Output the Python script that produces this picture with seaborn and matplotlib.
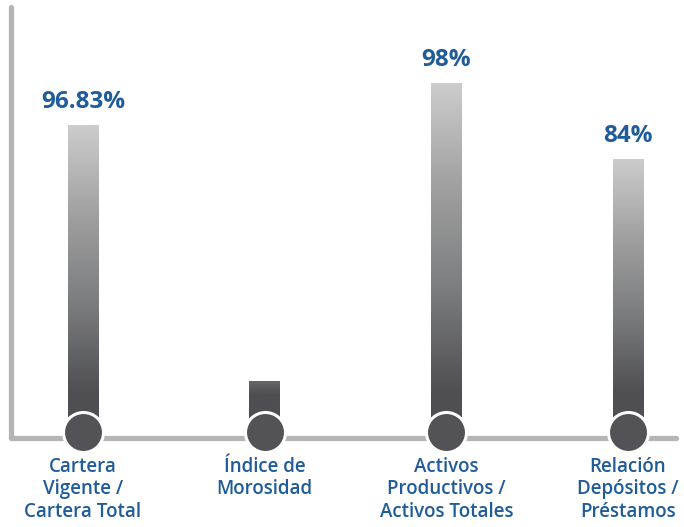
import numpy as np
import pandas as pd
import matplotlib
matplotlib.use("Agg")
import matplotlib.pyplot as plt
import seaborn as sns
from matplotlib.colors import LinearSegmentedColormap

categories = ["Cartera\nVigente /\nCartera Total", "Índice de\nMorosidad",
              "Activos\nProductivos /\nActivos Totales", "Relación\nDepósitos /\nPréstamos"]
bar_heights = [86.4, 15.7, 98.0, 77.0]
value_labels = ["96.83%", "", "98%", "84%"]

sns.set_theme(style="white")
plt.rcParams['font.family'] = ['Open Sans', 'DejaVu Sans']

BLUE = "#1f5c99"
AXIS = "#b5b5b5"
DARK = "#4e4e53"
LIGHT = "#cccccc"

fig = plt.figure(figsize=(6.84, 5.27), dpi=100)
ax = fig.add_axes([11/684, (527-438)/527, 665/684, 431/527])

df = pd.DataFrame({"cat": categories, "h": bar_heights})
sns.barplot(data=df, x="cat", y="h", width=0.17, color=DARK, ax=ax, zorder=2)

ymax = 431 / (355 / 98.0)

cmap = LinearSegmentedColormap.from_list("g", [DARK, "#7b7c7e", "#a0a0a0", LIGHT])
for p in ax.patches:
    x0, w, h = p.get_x(), p.get_width(), p.get_height()
    ys = np.linspace(0, h, 300)
    t = np.clip((ys - 12) / max(h - 12, 1e-6), 0, 1) * np.clip((h - 12) / 20, 0, 1)
    grad = t[::-1].reshape(-1, 1)
    p.set_facecolor("none")
    p.set_edgecolor("none")
    im = ax.imshow(grad, cmap=cmap, vmin=0, vmax=1, aspect="auto",
                   extent=(x0, x0 + w, 0, h), zorder=2, interpolation="bilinear")
    im.set_clip_path(p)

ax.set_xlim(-0.396, 3.264)
ax.set_ylim(0, ymax)

xs = np.arange(len(categories))
circle_y = 6.5 / (355 / 98.0)
ax.scatter(xs, [circle_y] * len(xs), s=830, color="#525257", edgecolor="white",
           linewidth=2.2, zorder=4, clip_on=False)

# axis lines
ax.plot([0, 0], [0, 1], transform=ax.transAxes, color=AXIS, lw=3.8,
        solid_capstyle="round", clip_on=False, zorder=1)
ax.plot([0, 1], [0, 0], transform=ax.transAxes, color=AXIS, lw=3.8,
        solid_capstyle="round", clip_on=False, zorder=1)

for x, h, lab in zip(xs, bar_heights, value_labels):
    if lab:
        ax.annotate(lab, (x, h), xytext=(0, 16.5), textcoords="offset points",
                    ha="center", va="center", color=BLUE, fontsize=17.5,
                    fontweight="bold")

for s in ax.spines.values():
    s.set_visible(False)
ax.set_yticks([])
ax.set_xlabel("")
ax.set_ylabel("")
ax.set_xticks(xs)
ax.set_xticklabels(categories, color=BLUE, fontsize=13.5, fontweight="semibold",
                   linespacing=1.18)
ax.tick_params(axis="x", length=0, pad=13.5)

fig.savefig("out.png", dpi=100)
